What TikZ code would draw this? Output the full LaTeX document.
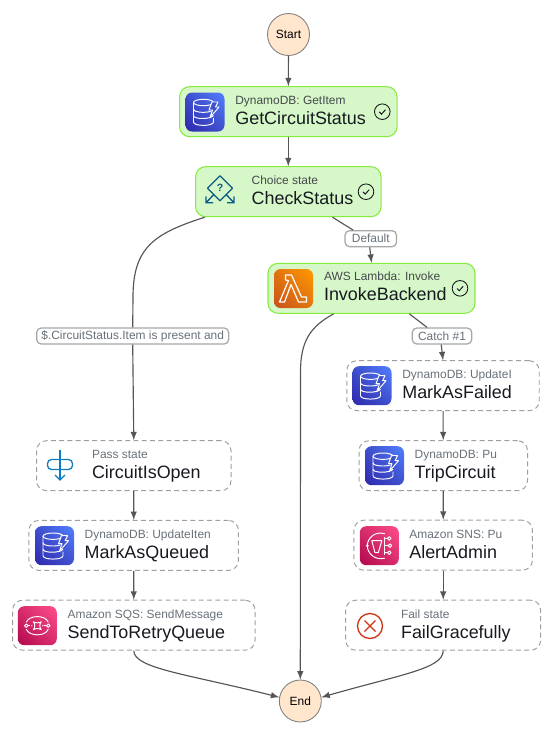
\documentclass[tikz,border=0pt]{standalone}
\usepackage{fontspec}
\usetikzlibrary{shadings}
\setmainfont{Liberation Sans}
\definecolor{okfill}{HTML}{D6F8C8}
\definecolor{okline}{HTML}{84EC3C}
\definecolor{dashline}{HTML}{9E9E9E}
\definecolor{flowline}{HTML}{555555}
\definecolor{subgray}{HTML}{687078}
\definecolor{darktext}{HTML}{16191F}
\definecolor{roundfill}{HTML}{FFE6CC}
\definecolor{dynlo}{HTML}{2E27AD}
\definecolor{dynmid}{HTML}{3F50CC}
\definecolor{dynhi}{HTML}{527FFF}
\definecolor{lamlo}{HTML}{C8511B}
\definecolor{lammid}{HTML}{E37510}
\definecolor{lamhi}{HTML}{FF9900}
\definecolor{pinklo}{HTML}{B0084D}
\definecolor{pinkmid}{HTML}{D82C6C}
\definecolor{pinkhi}{HTML}{FF4F8B}
\definecolor{passblue}{HTML}{0F7DC2}
\definecolor{choiceteal}{HTML}{0B5A85}
\definecolor{failred}{HTML}{D13212}
\tikzset{
  iconbase/.style={rounded corners=0.13cm, draw=none},
  iconline/.style={draw=white, line width=0.55pt, line join=round},
  dynicon/.pic={
    \shade[iconbase, lower left=dynlo, lower right=dynmid, upper left=dynmid, upper right=dynhi]
      (-19.5,-19.5) rectangle (19.5,19.5);
    % stack of discs
    \draw[iconline] (-1.5,-9.5) ellipse [x radius=10, y radius=3.2];
    \draw[iconline] (-11.5,-9.5) -- (-11.5,10) .. controls (-11.5,14.5) and (8.5,14.5) .. (8.5,10) -- (8.5,6);
    \draw[iconline] (-11.5,-3) .. controls (-11.5,1) and (3,1) .. (6,-1);
    \draw[iconline] (-11.5,3.5) .. controls (-11.5,7.5) and (6,7.5) .. (8.5,3.5);
    \draw[iconline, fill=dynmid] (7,-10) -- (13,-10) -- (10.5,-5) -- (14,-5) -- (5,5.5) -- (7.5,-2) -- (4,-2) -- cycle;
  },
  lambdaicon/.pic={
    \shade[iconbase, lower left=lamlo, lower right=lammid, upper left=lammid, upper right=lamhi]
      (-19.5,-19.5) rectangle (19.5,19.5);
    \draw[iconline, line width=0.7pt] (-8,-13.5) -- (-2,-13.5) -- (8,8.5) -- (13,8.5) -- (13,13.5) -- (5,13.5) -- (-2.5,-4) -- (-9,13.5) -- (-14,13.5) -- (-5,-8) -- (-8,-8.5) -- cycle;
  },
  sqsicon/.pic={
    \shade[iconbase, lower left=pinklo, lower right=pinkmid, upper left=pinkmid, upper right=pinkhi]
      (-19.5,-19.5) rectangle (19.5,19.5);
    \draw[iconline] (-4,-4) .. controls (-2,-2) and (-2,2) .. (-4,4) .. controls (-2,2.5) and (2,2.5) .. (4,4)
      .. controls (2,2) and (2,-2) .. (4,-4) .. controls (2,-2.5) and (-2,-2.5) .. (-4,-4) -- cycle;
    \draw[iconline] (-11,-3.5) .. controls (-8,-11) and (8,-11) .. (11,-3.5);
    \draw[iconline] (-11,3.5) .. controls (-8,11) and (8,11) .. (11,3.5);
    \draw[iconline] (-11,0) circle [radius=1.8] (11,0) circle [radius=1.8];
    \draw[iconline] (-9,0) -- (-7,0) (7,0) -- (9,0);
    \fill[white] (-5.5,0) circle [radius=0.7] (5.5,0) circle [radius=0.7];
  },
  snsicon/.pic={
    \shade[iconbase, lower left=pinklo, lower right=pinkmid, upper left=pinkmid, upper right=pinkhi]
      (-19.5,-19.5) rectangle (19.5,19.5);
    \draw[iconline] (5.5,-12) .. controls (-5,-15) and (-12,-7) .. (-12,0) .. controls (-12,7) and (-5,15) .. (5.5,12.5);
    \draw[iconline] (-7.5,-5) -- (2.5,-5) -- (-1,7) -- (-4.3,7) -- cycle;
    \fill[white] (-12,0) circle [radius=1.5];
    \draw[iconline] (5.5,-9) -- (5.5,9) (5.5,-7.3) -- (8.2,-7.3) (5.5,0) -- (8.9,0) (5.5,7) -- (8.2,7);
    \draw[iconline] (10,-7.3) circle [radius=1.8] (10.7,0) circle [radius=1.8] (10,7) circle [radius=1.8];
  },
  passicon/.pic={
    \draw[passblue, line width=0.75pt, rounded corners=0.08cm] (-12.5,-5.5) rectangle (12.5,4.5);
    \draw[passblue, line width=0.75pt] (0,-15) -- (0,15);
    \draw[passblue, line width=0.75pt] (-5,10) -- (0,15) -- (5,10);
  },
  choiceicon/.pic={
    \draw[choiceteal, line width=0.75pt, line join=round] (0,-12.5) -- (12.5,0) -- (0,12.5) -- (-12.5,0) -- cycle;
    \draw[choiceteal, line width=0.75pt] (-6.5,6.5) -- (-14,14.5) (-14,8) -- (-14,14.5) -- (-7,14.5);
    \draw[choiceteal, line width=0.75pt] (6.5,6.5) -- (14,14.5) (14,8) -- (14,14.5) -- (7,14.5);
    \node[text=choiceteal, font=\bfseries\fontsize{6}{6}\selectfont, inner sep=0pt] (choicemark) at (0,0) {?};
  },
  failicon/.pic={
    \draw[failred, line width=0.75pt] (0,0) circle [radius=12.5];
    \draw[failred, line width=0.75pt] (-5.5,-5.5) -- (5.5,5.5) (-5.5,5.5) -- (5.5,-5.5);
  },
  tickmark/.pic={
    \draw[darktext, line width=0.5pt] (0,0) circle [radius=7.8];
    \draw[darktext, line width=0.55pt] (-3,0.2) -- (-0.8,2.4) -- (3.2,-2);
  }
}
\begin{document}
\begin{tikzpicture}[x=0.02cm, y=-0.02cm, >=latex,
    okstate/.style={draw=okline, fill=okfill, line width=0.6pt, rounded corners=0.2cm,
               minimum height=1cm, inner sep=0pt},
    waitstate/.style={draw=dashline, line width=0.55pt, dash pattern=on 2.8pt off 1.9pt, rounded corners=0.2cm,
               minimum height=1cm, inner sep=0pt},
    roundstate/.style={circle, draw=gray, fill=roundfill, line width=0.5pt, minimum size=0.84cm, inner sep=0pt,
               text=black, font=\fontsize{6.8}{8}\selectfont},
    statesub/.style={anchor=base west, inner sep=0pt, text=subgray, font=\fontsize{6.8}{8}\selectfont},
    statetitle/.style={anchor=base west, inner sep=0pt, text=darktext, font=\fontsize{10.2}{12}\selectfont},
    edgelabel/.style={draw=gray!70, fill=white, line width=0.7pt, rounded corners=0.09cm, inner sep=0pt,
               minimum height=0.32cm, text=subgray, font=\fontsize{6.8}{8}\selectfont},
    flow/.style={->, draw=flowline, line width=0.65pt}
]
    \useasboundingbox (0,0) rectangle (554,738);

    % Start and end
    \node[roundstate] (startstate) at (288.5,34.5) {Start};
    \node[roundstate] (endstate) at (300.3,701) {End};

    % Green states
    \node[okstate, minimum width=4.35cm] (getstatus) at (288.3,111.7) {};
    \node[okstate, minimum width=3.71cm] (checkstatus) at (288.3,191.7) {};
    \node[okstate, minimum width=4.14cm] (invoke) at (371.5,288.3) {};

    % Left column
    \node[waitstate, minimum width=3.89cm] (isopen) at (133.8,465.7) {};
    \node[waitstate, minimum width=4.19cm] (queued) at (133.7,545.4) {};
    \node[waitstate, minimum width=4.85cm] (retry) at (133.8,625.2) {};

    % Right column
    \node[waitstate, minimum width=3.85cm] (failed) at (443,385.7) {};
    \node[waitstate, minimum width=3.37cm] (trip) at (443.3,465.7) {};
    \node[waitstate, minimum width=3.57cm] (alert) at (443.2,545.2) {};
    \node[waitstate, minimum width=3.90cm] (failstate) at (443.2,625.2) {};

    % Edge labels
    \node[edgelabel, minimum width=1.03cm] (defaultlabel) at (370.8,238.7) {Default};
    \node[edgelabel, minimum width=1.19cm] (catchlabel) at (442,336) {Catch \#1};
    \node[edgelabel, minimum width=3.84cm] (choicelabel) at (132.7,336) {\$.CircuitStatus.Item is present and};

    % Bends of the long curves
    \coordinate (bendopen) at (133,297);
    \coordinate (bendend) at (300.5,372);

    % Icons
    \pic at (205,112) {dynicon};
    \pic at (220,188.3) {choiceicon};
    \pic at (293.5,288.5) {lambdaicon};
    \pic at (60,465) {passicon};
    \pic at (54.5,545.7) {dynicon};
    \pic at (37.3,625.7) {sqsicon};
    \pic at (372,385.7) {dynicon};
    \pic at (384.5,465.7) {dynicon};
    \pic at (379.3,545.7) {snsicon};
    \pic at (370,626) {failicon};

    % Ticks
    \pic at (382.3,111.7) {tickmark};
    \pic at (366,191.7) {tickmark};
    \pic at (460,288.3) {tickmark};

    % Texts
    \node[statesub, text=darktext!80] (getsub) at (235,104) {DynamoDB: GetItem};
    \node[statetitle] (gettitle) at (235,124) {GetCircuitStatus};
    \node[statesub, text=darktext!80] (checksub) at (251.3,184) {Choice state};
    \node[statetitle] (checktitle) at (251.3,204) {CheckStatus};
    \node[statesub, text=darktext!80] (invokesub) at (323.7,280.7) {AWS Lambda: Invoke};
    \node[statetitle] (invoketitle) at (323.7,300.7) {InvokeBackend};
    \node[statesub] (opensub) at (91.7,458) {Pass state};
    \node[statetitle] (opentitle) at (91.7,478) {CircuitIsOpen};
    \node[statesub] (queuedsub) at (84.3,538) {DynamoDB: UpdateIten};
    \node[statetitle] (queuedtitle) at (84.3,558) {MarkAsQueued};
    \node[statesub] (retrysub) at (67.3,618) {Amazon SQS: SendMessage};
    \node[statetitle] (retrytitle) at (67.3,638) {SendToRetryQueue};
    \node[statesub] (failedsub) at (402,378) {DynamoDB: UpdateI};
    \node[statetitle] (failedtitle) at (402,398) {MarkAsFailed};
    \node[statesub] (tripsub) at (414.3,458) {DynamoDB: Pu};
    \node[statetitle] (triptitle) at (414.3,478) {TripCircuit};
    \node[statesub] (alertsub) at (409,538) {Amazon SNS: Pu};
    \node[statetitle] (alerttitle) at (409,558) {AlertAdmin};
    \node[statesub] (failsub) at (400.7,618) {Fail state};
    \node[statetitle] (failtitle) at (400.7,638) {FailGracefully};

    % Arrows
    \draw[flow] (startstate) -- (getstatus);
    \draw[flow] (getstatus) -- (checkstatus);
    \draw[flow, -] (checkstatus.-30.6) -- (defaultlabel.154);
    \draw[flow] (defaultlabel.-97) -- (invoke.north);
    \draw[flow, -] (checkstatus.197.5) .. controls +(-50,16) and +(0,-50) .. (bendopen) -- (choicelabel.north);
    \draw[flow] (choicelabel.south) -- (isopen.north);
    \draw[flow] (isopen) -- (queued);
    \draw[flow] (queued) -- (retry);
    \draw[flow] (invoke.214.4) .. controls +(-24,13) and +(0,-30) .. (bendend) -- (endstate.north);
    \draw[flow, -] (invoke.-34.4) -- (catchlabel.150);
    \draw[flow] (catchlabel.-95) -- (failed.north);
    \draw[flow] (failed) -- (trip);
    \draw[flow] (trip) -- (alert);
    \draw[flow] (alert) -- (failstate);
    \draw[flow] (retry.south) .. controls +(0,18) and +(-90,-23) .. (endstate.170);
    \draw[flow] (failstate.south) .. controls +(0,18) and +(80,-23) .. (endstate.10);
\end{tikzpicture}
\end{document}
